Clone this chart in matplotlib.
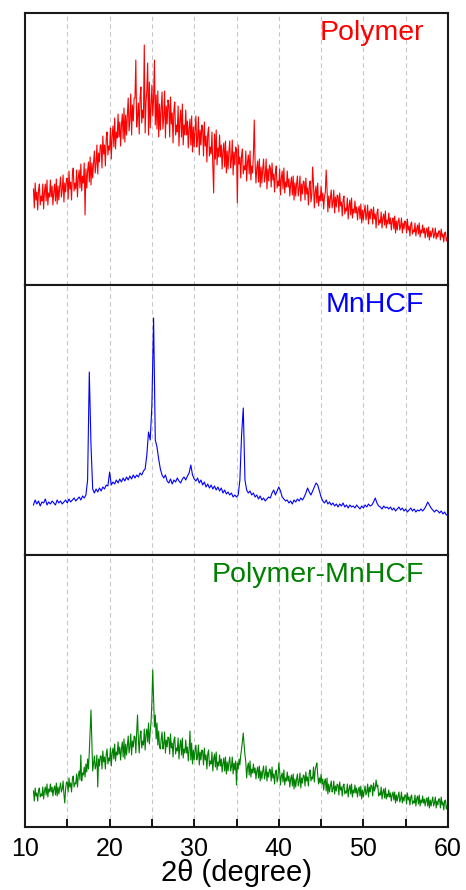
import numpy as np
import matplotlib
matplotlib.use('Agg')
import matplotlib.pyplot as plt
from matplotlib.ticker import MultipleLocator

plt.rcParams['font.family'] = ['Liberation Sans', 'DejaVu Sans']

# Intensities (arbitrary units, one panel each).
# Polymer and Polymer-MnHCF: 11.0 .. 60.0 in 0.1 degree steps, one row per degree
polymer = [
    96, 77, 102, 85, 93, 75, 95, 101, 80, 89,
    84, 101, 76, 93, 101, 84, 105, 80, 92, 88,
    105, 88, 99, 80, 93, 101, 84, 106, 81, 99,
    85, 98, 108, 88, 95, 110, 83, 102, 93, 106,
    107, 86, 114, 96, 103, 85, 110, 117, 94, 102,
    96, 115, 88, 107, 115, 97, 121, 94, 109, 102,
    122, 70, 116, 97, 114, 123, 103, 128, 100, 122,
    107, 122, 134, 112, 121, 140, 111, 132, 123, 140,
    140, 117, 149, 131, 140, 119, 146, 153, 130, 139,
    135, 157, 126, 149, 159, 138, 167, 136, 153, 147,
    171, 148, 163, 139, 160, 171, 146, 177, 143, 170,
    150, 170, 187, 154, 166, 191, 150, 180, 164, 187,
    187, 225, 158, 169, 182, 151, 187, 198, 162, 175,
    167, 240, 152, 182, 195, 222, 150, 203, 157, 180,
    200, 169, 187, 225, 160, 190, 156, 194, 148, 181,
    155, 176, 193, 156, 168, 194, 147, 179, 161, 185,
    180, 148, 188, 161, 172, 142, 175, 183, 150, 160,
    153, 179, 139, 164, 175, 148, 181, 140, 160, 150,
    175, 150, 164, 137, 157, 166, 140, 169, 133, 158,
    138, 155, 169, 138, 147, 168, 130, 155, 140, 160,
    156, 129, 163, 139, 149, 123, 151, 158, 129, 138,
    131, 153, 119, 92, 151, 126, 155, 120, 137, 128,
    150, 128, 140, 116, 134, 142, 118, 144, 112, 134,
    116, 133, 144, 117, 125, 145, 110, 133, 120, 138,
    135, 82, 140, 121, 128, 107, 130, 136, 111, 119,
    115, 134, 104, 123, 130, 111, 134, 105, 119, 112,
    131, 165, 122, 102, 117, 124, 103, 126, 98, 118,
    102, 116, 126, 103, 109, 126, 96, 116, 104, 120,
    117, 98, 122, 105, 111, 93, 113, 119, 97, 104,
    99, 116, 90, 107, 114, 96, 117, 92, 103, 98,
    114, 98, 106, 89, 101, 108, 90, 109, 85, 102,
    89, 101, 109, 89, 96, 109, 84, 101, 91, 104,
    103, 85, 107, 91, 97, 80, 99, 104, 83, 90,
    118, 101, 77, 93, 99, 82, 102, 79, 89, 84,
    99, 84, 92, 76, 88, 93, 115, 96, 73, 89,
    77, 87, 95, 77, 83, 95, 72, 88, 78, 90,
    89, 73, 92, 79, 83, 69, 85, 89, 71, 77,
    74, 87, 66, 79, 85, 70, 87, 67, 76, 72,
    84, 72, 78, 65, 75, 79, 66, 81, 62, 75,
    65, 74, 80, 65, 70, 80, 61, 74, 66, 76,
    75, 61, 78, 66, 71, 57, 72, 76, 60, 65,
    62, 73, 57, 67, 71, 60, 74, 57, 65, 61,
    72, 61, 67, 55, 64, 67, 56, 69, 52, 64,
    55, 63, 67, 55, 59, 67, 52, 62, 56, 64,
    63, 52, 66, 55, 59, 49, 61, 63, 51, 55,
    53, 62, 49, 56, 60, 51, 62, 48, 55, 52,
    60, 52, 57, 47, 54, 57, 48, 58, 45, 54,
    48, 53, 57, 47, 50, 57, 46, 52, 48, 54,
    54, 45, 56, 48, 51, 43, 52, 53, 44, 47,
    48,
]

polymer_mnhcf = [
    36, 26, 39, 31, 34, 26, 37, 39, 30, 33,
    31, 40, 28, 36, 40, 32, 43, 30, 38, 35,
    43, 35, 40, 31, 38, 41, 32, 44, 31, 40,
    33, 39, 44, 35, 38, 46, 33, 24, 38, 45,
    45, 35, 49, 40, 44, 35, 48, 51, 40, 44,
    43, 53, 40, 51, 56, 47, 72, 46, 54, 52,
    60, 50, 63, 55, 68, 58, 75, 95, 117, 85,
    56, 64, 71, 58, 62, 72, 40, 68, 61, 71,
    71, 58, 76, 65, 70, 58, 73, 78, 63, 69,
    66, 79, 61, 74, 79, 68, 83, 66, 75, 72,
    85, 73, 80, 67, 78, 85, 70, 88, 68, 83,
    72, 82, 91, 74, 80, 93, 72, 86, 80, 91,
    90, 74, 95, 112, 88, 74, 91, 96, 79, 86,
    82, 98, 77, 92, 98, 85, 104, 83, 95, 105,
    125, 157, 128, 100, 112, 88, 104, 82, 96, 80,
    78, 88, 95, 78, 83, 95, 74, 87, 80, 90,
    89, 73, 93, 79, 84, 70, 87, 90, 73, 79,
    76, 89, 68, 81, 87, 72, 89, 69, 78, 74,
    87, 74, 80, 66, 77, 96, 67, 84, 63, 77,
    67, 76, 82, 67, 71, 82, 62, 75, 67, 77,
    76, 62, 79, 67, 72, 58, 73, 77, 61, 66,
    63, 75, 56, 68, 73, 60, 75, 57, 65, 61,
    72, 61, 68, 55, 64, 69, 56, 70, 53, 65,
    56, 64, 70, 56, 60, 70, 53, 64, 57, 66,
    42, 64, 58, 68, 62, 72, 78, 86, 94, 82,
    72, 65, 49, 60, 64, 52, 66, 50, 58, 54,
    63, 54, 59, 48, 56, 60, 49, 61, 46, 56,
    48, 56, 61, 48, 52, 61, 46, 55, 50, 58,
    57, 46, 60, 49, 53, 43, 55, 57, 45, 49,
    64, 56, 42, 51, 54, 45, 57, 42, 49, 46,
    55, 46, 51, 40, 48, 52, 41, 53, 38, 48,
    40, 48, 53, 41, 45, 54, 39, 49, 44, 52,
    51, 41, 55, 46, 50, 41, 54, 57, 46, 50,
    48, 60, 45, 57, 61, 64, 52, 43, 49, 44,
    53, 43, 48, 37, 45, 48, 36, 49, 33, 43,
    35, 41, 46, 35, 38, 46, 33, 41, 36, 43,
    42, 32, 45, 37, 40, 31, 41, 43, 33, 36,
    34, 43, 30, 38, 42, 33, 43, 30, 37, 34,
    42, 34, 39, 30, 37, 40, 31, 41, 28, 37,
    30, 36, 41, 32, 35, 43, 30, 40, 35, 42,
    41, 31, 44, 36, 39, 47, 40, 42, 31, 34,
    32, 40, 28, 35, 38, 29, 39, 28, 33, 30,
    37, 30, 34, 26, 32, 35, 27, 35, 24, 32,
    26, 31, 35, 25, 28, 35, 24, 30, 26, 32,
    32, 23, 34, 27, 30, 22, 30, 32, 23, 26,
    24, 32, 21, 28, 31, 23, 32, 21, 27, 24,
    31, 24, 28, 21, 27, 29, 21, 30, 19, 27,
    21, 26, 30, 21, 24, 30, 19, 26, 22, 28,
    28, 19, 30, 22, 25, 17, 26, 27, 18, 21,
    22,
]

# MnHCF: 11.0 .. 60.0 in 0.2 degree steps, one row per 2 degrees
mnhcf = [
    50, 55, 51, 54, 49, 53, 52, 56, 50, 53,
    51, 54, 52, 50, 55, 52, 54, 51, 53, 55,
    52, 56, 53, 55, 57, 54, 56, 58, 55, 59,
    57, 60, 75, 183, 110, 66, 62, 66, 63, 67,
    64, 68, 66, 70, 69, 83, 70, 73, 71, 75,
    72, 76, 73, 77, 74, 78, 75, 79, 76, 80,
    77, 80, 78, 82, 80, 84, 86, 100, 123, 115,
    150, 237, 115, 108, 96, 86, 80, 77, 80, 74,
    72, 76, 71, 75, 73, 77, 74, 72, 76, 78,
    75, 79, 82, 90, 80, 76, 74, 77, 72, 75,
    70, 73, 68, 71, 67, 70, 66, 69, 65, 68,
    64, 67, 62, 65, 61, 63, 60, 62, 58, 60,
    58, 60, 75, 120, 147, 75, 65, 62, 64, 60,
    62, 58, 60, 56, 59, 55, 57, 54, 56, 58,
    57, 62, 65, 60, 64, 68, 64, 58, 56, 54,
    55, 52, 54, 51, 55, 53, 56, 54, 57, 55,
    58, 62, 67, 63, 60, 64, 68, 72, 70, 64,
    58, 54, 52, 55, 51, 53, 50, 52, 49, 51,
    48, 51, 49, 52, 48, 50, 47, 50, 48, 49,
    47, 50, 48, 46, 49, 47, 50, 48, 51, 49,
    50, 53, 57, 52, 49, 48, 46, 49, 47, 48,
    46, 48, 45, 47, 44, 46, 48, 45, 47, 44,
    46, 43, 45, 47, 44, 46, 43, 45, 44, 46,
    44, 46, 49, 53, 50, 47, 45, 43, 45, 44,
    42, 44, 41, 43, 40, 41,
]

names = ['Polymer', 'MnHCF', 'Polymer-MnHCF']
colors = ['#ff0000', '#0000ff', '#008000']
series = [polymer, mnhcf, polymer_mnhcf]

fig = plt.figure(figsize=(4.66, 8.90), dpi=100)
left, width = 25 / 466, 423 / 466
# panel edges in pixels from the top
edges = [13, 285, 555, 827]

axes = []
for i in range(3):
    bottom = 1 - edges[i + 1] / 890
    height = (edges[i + 1] - edges[i]) / 890
    ax = fig.add_axes([left, bottom, width, height])
    axes.append(ax)

    for gx in range(15, 60, 5):
        ax.axvline(gx, color='#c8c8c8', lw=0.8, ls=(0, (4, 3)), zorder=0)

    y = series[i]
    x = np.linspace(11, 60, len(y))
    ax.plot(x, y, color=colors[i], lw=0.8)
    ax.set_xlim(10, 60)
    ax.set_ylim(0, edges[i + 1] - edges[i])
    ax.set_yticks([])

    for s in ax.spines.values():
        s.set_linewidth(1.5)
        s.set_color('#1a1a1a')

    ax.text(0.943, 0.925, names[i], color=colors[i], fontsize=20.5,
            ha='right', va='center', transform=ax.transAxes)

    ax.xaxis.set_major_locator(MultipleLocator(10))
    ax.xaxis.set_minor_locator(MultipleLocator(5))
    if i < 2:
        ax.tick_params(axis='x', which='both', length=0, labelbottom=False)
    else:
        ax.tick_params(axis='x', which='both', direction='in', length=6,
                       width=1.3, labelsize=18, pad=7)

axes[2].set_xlabel('2θ (degree)', fontsize=21, labelpad=-1)

fig.savefig('out.png', dpi=100)
